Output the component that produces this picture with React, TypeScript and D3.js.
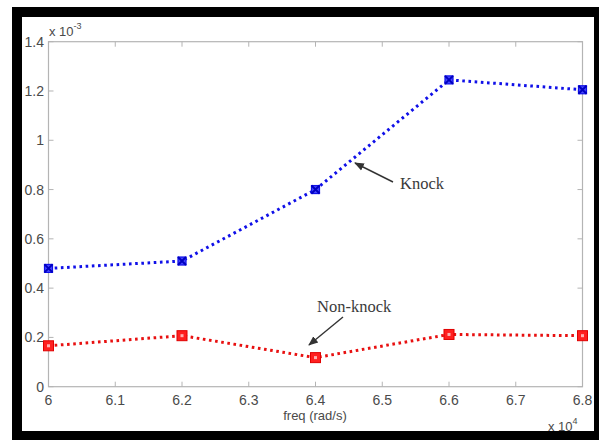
import React, { useRef, useEffect } from 'react';
import * as d3 from 'd3';

// frequencies in units of 1e4 rad/s
const freqs = [6.0, 6.2, 6.4, 6.6, 6.8];
// values in units of 1e-3
const knock = [0.48, 0.51, 0.8, 1.245, 1.205];
const nonKnock = [0.166, 0.207, 0.118, 0.212, 0.207];
const xTicks = [6, 6.1, 6.2, 6.3, 6.4, 6.5, 6.6, 6.7, 6.8];
const yTicks = [0, 0.2, 0.4, 0.6, 0.8, 1, 1.2, 1.4];

export default function App() {
  const svgRef = useRef<SVGSVGElement>(null);

  useEffect(() => {
    const svg = d3.select(svgRef.current);
    svg.selectAll('*').remove();

    const W = 599;
    const H = 440;
    const m = { left: 48.5, right: 582.5, top: 41.7, bottom: 386.7 };

    // frame
    svg.append('rect').attr('width', W).attr('height', H).attr('fill', '#fff');
    svg.append('rect').attr('x', 12).attr('y', 7).attr('width', W - 12).attr('height', H - 7).attr('fill', '#000');
    svg.append('rect').attr('x', 22).attr('y', 17).attr('width', 572).attr('height', 414).attr('fill', '#fff');

    const x = d3.scaleLinear().domain([6, 6.8]).range([m.left, m.right]);
    const y = d3.scaleLinear().domain([0, 1.4]).range([m.bottom, m.top]);

    const axisColor = '#b4b4b4';
    const textColor = '#4a4a4a';
    const font = '"Liberation Sans", Arial, sans-serif';

    svg.append('rect')
      .attr('x', m.left).attr('y', m.top)
      .attr('width', m.right - m.left).attr('height', m.bottom - m.top)
      .attr('fill', 'none').attr('stroke', axisColor).attr('stroke-width', 1.2);

    const g = svg.append('g');
    xTicks.forEach(t => {
      g.append('line').attr('x1', x(t)).attr('x2', x(t)).attr('y1', m.bottom).attr('y2', m.bottom - 5)
        .attr('stroke', axisColor);
      g.append('line').attr('x1', x(t)).attr('x2', x(t)).attr('y1', m.top).attr('y2', m.top + 5)
        .attr('stroke', axisColor);
      g.append('text').attr('x', x(t)).attr('y', 405).attr('text-anchor', 'middle')
        .attr('font-family', font).attr('font-size', 14).attr('fill', textColor)
        .text(d3.format('.1f')(t).replace('.0', ''));
    });
    yTicks.forEach(t => {
      g.append('line').attr('x1', m.left).attr('x2', m.left + 5).attr('y1', y(t)).attr('y2', y(t))
        .attr('stroke', axisColor);
      g.append('line').attr('x1', m.right).attr('x2', m.right - 5).attr('y1', y(t)).attr('y2', y(t))
        .attr('stroke', axisColor);
      g.append('text').attr('x', 44).attr('y', y(t) + 5).attr('text-anchor', 'end')
        .attr('font-family', font).attr('font-size', 14).attr('fill', textColor)
        .text(String(t));
    });

    g.append('text').attr('x', 315).attr('y', 420).attr('text-anchor', 'middle')
      .attr('font-family', font).attr('font-size', 13).attr('fill', textColor).text('freq (rad/s)');

    const exp = (tx: number, ty: number, p: string) => {
      const t = g.append('text').attr('x', tx).attr('y', ty)
        .attr('font-family', font).attr('font-size', 13).attr('fill', textColor);
      t.append('tspan').text('x 10');
      t.append('tspan').attr('dy', -7).attr('font-size', 9).text(p);
    };
    exp(49, 36, '-3');
    exp(548, 431, '4');

    const lineGen = d3.line<number>().x((d, i) => x(freqs[i])).y(d => y(d));

    // knock series
    svg.append('path').attr('d', lineGen(knock)).attr('fill', 'none')
      .attr('stroke', '#1010e8').attr('stroke-width', 3)
      .attr('stroke-dasharray', '2.6 3.6');
    knock.forEach((v, i) => {
      const cx = x(freqs[i]), cy = y(v);
      svg.append('rect').attr('x', cx - 4).attr('y', cy - 4).attr('width', 8).attr('height', 8)
        .attr('fill', '#4848ff').attr('stroke', '#1010e8').attr('stroke-width', 1.2);
      svg.append('path').attr('d', `M${cx - 4},${cy - 4}L${cx + 4},${cy + 4}M${cx - 4},${cy + 4}L${cx + 4},${cy - 4}`)
        .attr('stroke', '#0000c0').attr('stroke-width', 2);
    });

    // non-knock series
    svg.append('path').attr('d', lineGen(nonKnock)).attr('fill', 'none')
      .attr('stroke', '#e81010').attr('stroke-width', 3)
      .attr('stroke-dasharray', '2.6 3.6');
    nonKnock.forEach((v, i) => {
      const cx = x(freqs[i]), cy = y(v);
      svg.append('rect').attr('x', cx - 5).attr('y', cy - 5).attr('width', 10).attr('height', 10)
        .attr('fill', '#ff2020').attr('stroke', '#e00000').attr('stroke-width', 1);
      svg.append('rect').attr('x', cx - 1.5).attr('y', cy - 1.5).attr('width', 3).attr('height', 3)
        .attr('fill', '#ffb0b0');
    });

    // annotations
    const defs = svg.append('defs');
    defs.append('marker').attr('id', 'ah').attr('viewBox', '0 0 10 10')
      .attr('refX', 9).attr('refY', 5).attr('markerWidth', 7).attr('markerHeight', 7)
      .attr('orient', 'auto')
      .append('path').attr('d', 'M0,1L10,5L0,9Z').attr('fill', '#333');

    const serif = '"Liberation Serif", "Times New Roman", serif';
    svg.append('line').attr('x1', 393).attr('y1', 182).attr('x2', 355).attr('y2', 163)
      .attr('stroke', '#333').attr('stroke-width', 1.4).attr('marker-end', 'url(#ah)');
    svg.append('text').attr('x', 400).attr('y', 189).attr('font-family', serif)
      .attr('font-size', 16.5).attr('fill', '#3a3a3a').text('Knock');

    svg.append('line').attr('x1', 343).attr('y1', 317).attr('x2', 309).attr('y2', 345)
      .attr('stroke', '#333').attr('stroke-width', 1.4).attr('marker-end', 'url(#ah)');
    svg.append('text').attr('x', 317).attr('y', 312).attr('font-family', serif)
      .attr('font-size', 16.5).attr('fill', '#3a3a3a').text('Non-knock');
  }, []);

  return (
    <svg
      ref={svgRef}
      width={599}
      height={440}
      viewBox="0 0 599 440"
      style={{ position: 'absolute', left: 0, top: 0 }}
    />
  );
}
